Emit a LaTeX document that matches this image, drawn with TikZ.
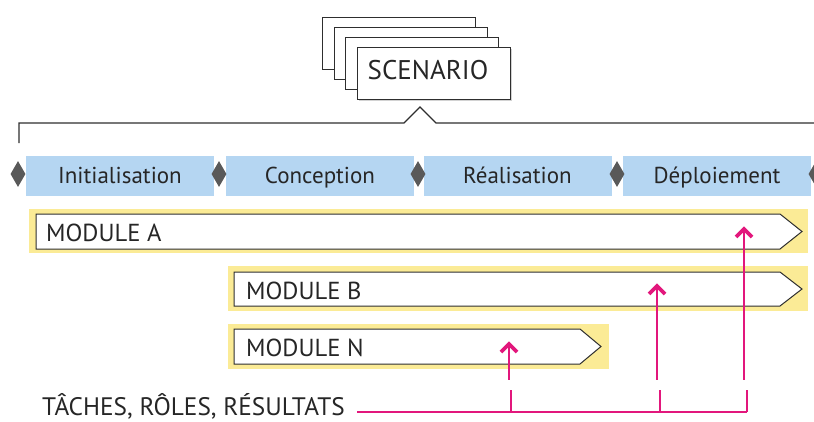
\documentclass[tikz,border=0pt]{standalone}
\usepackage{fontspec}
\setmainfont{PT Sans}
\usetikzlibrary{shapes.geometric}
\definecolor{phaseblue}{HTML}{B5D6F2}
\definecolor{modyellow}{HTML}{FBEB96}
\definecolor{accent}{HTML}{E2177C}
\definecolor{ink}{HTML}{2E2E2E}
\definecolor{jointgray}{HTML}{595959}

\begin{document}
\begin{tikzpicture}[x=1pt,y=-1pt,
  label font/.style={font=\fontsize{#1}{28}\selectfont, text=black!85},
  sheet/.style={draw=ink, line width=1.1pt, fill=white, minimum width=153pt,
    minimum height=52pt, inner sep=0pt, anchor=north west},
  phase/.style={fill=phaseblue, minimum width=188pt, minimum height=40pt,
    inner sep=0pt, label font=23, text height=17pt, text depth=3pt},
  joint/.style={diamond, fill=jointgray, minimum width=15pt, minimum height=26pt,
    inner sep=0pt},
  band/.style={fill=modyellow},
  body/.style={draw=ink, line width=1pt, fill=white, line join=miter},
  modlabel/.style={anchor=base west, inner sep=0pt, label font=24.6},
  link/.style={draw=accent, line width=1.4pt},
  chev/.style={draw=accent, line width=3.6pt, line join=miter}
]
\useasboundingbox (0,0) rectangle (814,421);

% stack of scenario sheets
\node[sheet] (s1) at (322,17) {};
\node[sheet] (s2) at (333.7,27) {};
\node[sheet] (s3) at (345.3,37) {};
\fill[gray!35] (358.5,49) rectangle (512,101);
\node[sheet] (scen) at (357,47) {};
\node[anchor=base, inner sep=0pt, label font=27] (scentext) at (428,79) {SCENARIO};

% bracket joining the scenario to the phases
\draw[ink, line width=1.4pt] (19,143) -- (19,123) -- (404,123) -- (420,107)
  -- (436,123) -- (818,123) -- (818,143);

% phases
\node[phase] (p1) at (120,176) {Initialisation};
\node[phase] (p2) at (320,176) {Conception};
\node[phase] (p3) at (517.5,176) {Réalisation};
\node[phase] (p4) at (717,176) {Déploiement};

% milestones
\foreach \x [count=\i] in {18,219,418,617,816}
  \node[joint] (j\i) at (\x,174) {};

% modules
\fill[band] (29,209) rectangle (808,253);
\draw[body] (36,214) -- (780,214) -- (802,231.5) -- (780,249) -- (36,249) -- cycle;
\node[modlabel] (ma) at (46,241) {MODULE A};

\fill[band] (228,266) rectangle (808,311);
\draw[body] (234,272) -- (780,272) -- (802,289) -- (780,306) -- (234,306) -- cycle;
\node[modlabel] (mb) at (246,299) {MODULE B};

\fill[band] (228,324) rectangle (609,369);
\draw[body] (234,329) -- (580,329) -- (601,346.5) -- (580,364) -- (234,364) -- cycle;
\node[modlabel] (mn) at (246,356) {MODULE N};

% tasks, roles and results pointing into the modules
\coordinate (tipA) at (744,229);
\coordinate (tipB) at (657,286);
\coordinate (tipN) at (509,344);
\coordinate (busA) at (747,412);
\coordinate (busB) at (660,412);
\coordinate (busN) at (511,412);

\foreach \t in {tipA,tipB,tipN} {
  \draw[chev] ([shift={(-8,8)}]\t) -- (\t) -- ([shift={(8,8)}]\t);
  \draw[link] ([shift={(0,2)}]\t) -- (\t |- 0,380);
}
\foreach \b in {busA,busB,busN}
  \draw[link] (\b) -- ([shift={(0,-22)}]\b);

\node[anchor=base west, inner sep=0pt, label font=25.3] (tasks) at (42,415)
  {TÂCHES, RÔLES, RÉSULTATS};
\draw[link] ([xshift=12pt]tasks.east |- busA) -- (busA);
\end{tikzpicture}
\end{document}
